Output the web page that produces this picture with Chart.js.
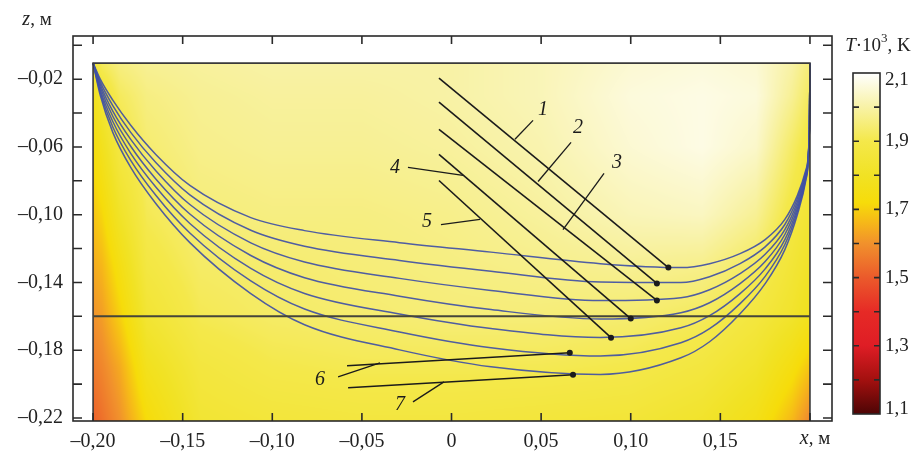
<!DOCTYPE html>
<html>
<head>
<meta charset="utf-8">
<script src="https://cdn.jsdelivr.net/npm/chart.js@4.4.0/dist/chart.umd.min.js"></script>
<style>
  html, body { margin: 0; padding: 0; background: #fff; }
  #wrap { width: 920px; height: 453px; }
</style>
</head>
<body>
<div id="wrap"><canvas id="chart" width="920" height="453"></canvas></div>
<script>
// ---- values (x, z in metres, T in 10^3 K) ----
const xs = [-0.2, -0.196, -0.189, -0.179, -0.165, -0.146, -0.112, -0.082, -0.029, 0.022,
            0.083, 0.128, 0.144, 0.161, 0.175, 0.186, 0.193, 0.1978, 0.1997, 0.2];

const front1 = [-0.0105, -0.0200, -0.0324, -0.0472, -0.0644, -0.0827, -0.1017, -0.1094, -0.1165, -0.1221,
                -0.1289, -0.1312, -0.1289, -0.1230, -0.1147, -0.1028, -0.0886, -0.0733, -0.0496, -0.0105];
const front2 = [-0.0105, -0.0216, -0.0356, -0.0514, -0.0692, -0.0883, -0.1092, -0.1186, -0.1270, -0.1334,
                -0.1398, -0.1401, -0.1366, -0.1289, -0.1190, -0.1058, -0.0905, -0.0743, -0.0496, -0.0105];
const front3 = [-0.0105, -0.0231, -0.0388, -0.0555, -0.0740, -0.0940, -0.1166, -0.1279, -0.1376, -0.1447,
                -0.1507, -0.1490, -0.1443, -0.1348, -0.1234, -0.1088, -0.0924, -0.0752, -0.0496, -0.0105];
const front4 = [-0.0105, -0.0247, -0.0419, -0.0596, -0.0789, -0.0996, -0.1241, -0.1372, -0.1481, -0.1560,
                -0.1616, -0.1579, -0.1520, -0.1407, -0.1277, -0.1117, -0.0943, -0.0762, -0.0496, -0.0105];
const front5 = [-0.0105, -0.0263, -0.0450, -0.0638, -0.0837, -0.1052, -0.1317, -0.1465, -0.1586, -0.1672,
                -0.1725, -0.1668, -0.1596, -0.1466, -0.1320, -0.1147, -0.0962, -0.0772, -0.0496, -0.0105];
const front6 = [-0.0105, -0.0279, -0.0482, -0.0679, -0.0885, -0.1108, -0.1391, -0.1557, -0.1692, -0.1785,
                -0.1834, -0.1756, -0.1673, -0.1525, -0.1364, -0.1176, -0.0980, -0.0782, -0.0496, -0.0105];
const front7 = [-0.0105, -0.0295, -0.0514, -0.0721, -0.0934, -0.1165, -0.1466, -0.1650, -0.1798, -0.1898,
                -0.1943, -0.1845, -0.1750, -0.1585, -0.1407, -0.1206, -0.0999, -0.0792, -0.0496, -0.0105];

// marked points and the pointer lines leading to them
const markerX = [0.121, 0.1146, 0.1146, 0.100, 0.089, 0.066, 0.0678];
const markerZ = [-0.1312, -0.1406, -0.1506, -0.1613, -0.1726, -0.1815, -0.1945];
const pointerX = [-0.007, -0.007, -0.007, -0.007, -0.007, -0.0583, -0.0577];
const pointerZ = [-0.0194, -0.0336, -0.0496, -0.0644, -0.0798, -0.1892, -0.2022];

// curve numbers and their short leader strokes
const labelText = ['1', '2', '3', '4', '5', '6', '7'];
const labelX = [0.051, 0.0706, 0.0923, -0.0315, -0.0137, -0.0734, -0.0287];
const labelZ = [-0.0378, -0.0484, -0.0691, -0.0721, -0.104, -0.1975, -0.2123];
const leaderX0 = [0.0455, 0.0667, 0.0851, -0.0243, -0.0059, -0.0633, -0.0215];
const leaderZ0 = [-0.0443, -0.0573, -0.0756, -0.0721, -0.1058, -0.1957, -0.2105];
const leaderX1 = [0.0354, 0.0483, 0.0622, 0.0064, 0.0159, -0.0399, -0.0042];
const leaderZ1 = [-0.0555, -0.0804, -0.1088, -0.0768, -0.1028, -0.1875, -0.1987];

// domain box and level line
const boxTop = -0.0105;
const levelZ = -0.16;

// axis ticks
const xTicks = [-0.2, -0.15, -0.1, -0.05, 0, 0.05, 0.1, 0.15, 0.2];
const zTicks = [-0.22, -0.2, -0.18, -0.16, -0.14, -0.12, -0.1, -0.08, -0.06, -0.04, -0.02, 0];
const zLabelled = [-0.22, -0.18, -0.14, -0.1, -0.06, -0.02];

// temperature field (rows = z, cols = x), 10^3 K
const fieldX = [-0.2, -0.195, -0.185, -0.17, -0.14, -0.1, -0.05, 0, 0.05, 0.1, 0.14, 0.17, 0.19, 0.2];
const fieldZ = [-0.0105, -0.03, -0.06, -0.1, -0.13, -0.16, -0.19, -0.222];
const fieldT = [
  [1.86, 1.92, 1.96, 1.98, 1.99, 2.00, 2.00, 2.00, 2.02, 2.05, 2.06, 2.05, 2.00, 1.95],
  [1.78, 1.84, 1.92, 1.96, 1.98, 1.99, 1.99, 2.00, 2.02, 2.06, 2.07, 2.06, 1.98, 1.92],
  [1.73, 1.78, 1.88, 1.94, 1.97, 1.98, 1.98, 1.99, 2.01, 2.05, 2.07, 2.04, 1.93, 1.87],
  [1.68, 1.71, 1.81, 1.91, 1.95, 1.96, 1.96, 1.97, 1.99, 2.02, 2.03, 1.98, 1.88, 1.84],
  [1.64, 1.66, 1.75, 1.88, 1.93, 1.94, 1.95, 1.96, 1.97, 1.98, 1.97, 1.92, 1.85, 1.81],
  [1.60, 1.62, 1.70, 1.84, 1.91, 1.93, 1.94, 1.95, 1.95, 1.94, 1.92, 1.87, 1.82, 1.78],
  [1.56, 1.58, 1.64, 1.78, 1.87, 1.90, 1.91, 1.91, 1.91, 1.90, 1.87, 1.82, 1.74, 1.68],
  [1.51, 1.54, 1.60, 1.72, 1.84, 1.86, 1.87, 1.87, 1.86, 1.85, 1.82, 1.76, 1.66, 1.58]
];

// colour scale
const cmapT = [1.1, 1.2, 1.3, 1.4, 1.5, 1.6, 1.66, 1.72, 1.8, 1.9, 2.0, 2.1];
const cmapColor = ['#4d0505', '#a3100f', '#df1d25', '#e62a26', '#eb5a2b', '#f1912c',
                   '#f6b719', '#f6dc0a', '#f1e224', '#f4e84a', '#f8f2a6', '#ffffff'];
const cbTicks = [1.2, 1.3, 1.4, 1.5, 1.6, 1.7, 1.8, 1.9, 2.0];
const cbLabels = [2.1, 1.9, 1.7, 1.5, 1.3, 1.1];

const SERIF = '"Liberation Serif", "DejaVu Serif", serif';
const curveColor = 'rgba(64, 80, 165, 0.92)';
const inkColor = '#1b1b1b';

function fmtComma(v, digits) {
  if (Math.abs(v) < 1e-9) return '0';
  const s = Math.abs(v).toFixed(digits).replace('.', ',');
  return v < 0 ? '\u2013' + s : s;
}

const cmapRGB = cmapColor.map(h => [parseInt(h.slice(1, 3), 16), parseInt(h.slice(3, 5), 16), parseInt(h.slice(5, 7), 16)]);
function tempColor(t) {
  if (t <= cmapT[0]) return cmapRGB[0];
  for (let i = 1; i < cmapT.length; i++) {
    if (t <= cmapT[i]) {
      const f = (t - cmapT[i - 1]) / (cmapT[i] - cmapT[i - 1]);
      const a = cmapRGB[i - 1], b = cmapRGB[i];
      return [a[0] + (b[0] - a[0]) * f, a[1] + (b[1] - a[1]) * f, a[2] + (b[2] - a[2]) * f];
    }
  }
  return cmapRGB[cmapRGB.length - 1];
}

function bracket(arr, v, descending) {
  const n = arr.length;
  for (let i = 0; i < n - 1; i++) {
    const a = arr[i], b = arr[i + 1];
    const inside = descending ? (v <= a && v >= b) : (v >= a && v <= b);
    if (inside) return [i, (v - a) / (b - a)];
  }
  if (descending ? v > arr[0] : v < arr[0]) return [0, 0];
  return [n - 2, 1];
}

// heat map under the curves
const fieldPlugin = {
  id: 'field',
  beforeDatasetsDraw(chart) {
    const { ctx, chartArea, scales: { x, y } } = chart;
    const left = Math.round(x.getPixelForValue(fieldX[0]));
    const right = Math.round(x.getPixelForValue(fieldX[fieldX.length - 1]));
    const top = Math.round(y.getPixelForValue(fieldZ[0]));
    const bottom = Math.min(Math.round(chartArea.bottom), Math.round(y.getPixelForValue(fieldZ[fieldZ.length - 1])));
    const w = right - left, h = bottom - top;
    const off = document.createElement('canvas');
    off.width = w; off.height = h;
    const octx = off.getContext('2d');
    const img = octx.createImageData(w, h);
    for (let j = 0; j < h; j++) {
      const [r, fr] = bracket(fieldZ, y.getValueForPixel(top + j + 0.5), true);
      for (let i = 0; i < w; i++) {
        const [c, fc] = bracket(fieldX, x.getValueForPixel(left + i + 0.5), false);
        const t00 = fieldT[r][c], t01 = fieldT[r][c + 1], t10 = fieldT[r + 1][c], t11 = fieldT[r + 1][c + 1];
        const t = (t00 * (1 - fc) + t01 * fc) * (1 - fr) + (t10 * (1 - fc) + t11 * fc) * fr;
        const col = tempColor(t);
        const k = (j * w + i) * 4;
        img.data[k] = col[0]; img.data[k + 1] = col[1]; img.data[k + 2] = col[2]; img.data[k + 3] = 255;
      }
    }
    octx.putImageData(img, 0, 0);
    ctx.drawImage(off, left, top);
  }
};

function drawMixed(ctx, parts, x, y, align) {
  // parts: [text, style, size, dy]
  let total = 0;
  parts.forEach(p => { ctx.font = `${p[1]} ${p[2]}px ${SERIF}`; total += ctx.measureText(p[0]).width; });
  let cx = align === 'center' ? x - total / 2 : x;
  ctx.textAlign = 'left';
  parts.forEach(p => {
    ctx.font = `${p[1]} ${p[2]}px ${SERIF}`;
    ctx.fillText(p[0], cx, y + (p[3] || 0));
    cx += ctx.measureText(p[0]).width;
  });
}

// frame, inward ticks, numbers, titles and colour bar
const overlayPlugin = {
  id: 'overlay',
  afterDraw(chart) {
    const { ctx, chartArea: a, scales: { x, y } } = chart;
    ctx.save();
    ctx.strokeStyle = '#2a2a2a';
    ctx.lineWidth = 1.6;
    ctx.strokeRect(a.left, a.top, a.right - a.left, a.bottom - a.top);

    ctx.beginPath();
    xTicks.forEach(v => {
      const px = x.getPixelForValue(v);
      ctx.moveTo(px, a.bottom); ctx.lineTo(px, a.bottom - 8);
      ctx.moveTo(px, a.top); ctx.lineTo(px, a.top + 8);
    });
    zTicks.forEach(v => {
      const py = y.getPixelForValue(v);
      ctx.moveTo(a.left, py); ctx.lineTo(a.left + 9, py);
      ctx.moveTo(a.right, py); ctx.lineTo(a.right - 9, py);
    });
    ctx.stroke();

    // curve numbers
    ctx.fillStyle = inkColor;
    ctx.textBaseline = 'middle';
    ctx.textAlign = 'center';
    ctx.font = `italic 20px ${SERIF}`;
    labelText.forEach((s, i) => {
      ctx.fillText(s, x.getPixelForValue(labelX[i]), y.getPixelForValue(labelZ[i]));
    });

    // axis titles
    ctx.fillStyle = '#222';
    drawMixed(ctx, [['z', 'italic', 20], [', м', 'normal', 19]], 37, 20, 'center');
    drawMixed(ctx, [['x', 'italic', 20], [', м', 'normal', 19]], 815, 439, 'center');

    // colour bar
    const cbL = 853, cbR = 880, cbT = 73, cbB = 414;
    const tMin = cmapT[0], tMax = cmapT[cmapT.length - 1];
    const grad = ctx.createLinearGradient(0, cbB, 0, cbT);
    cmapT.forEach((t, i) => grad.addColorStop((t - tMin) / (tMax - tMin), cmapColor[i]));
    ctx.fillStyle = grad;
    ctx.fillRect(cbL, cbT, cbR - cbL, cbB - cbT);
    ctx.strokeStyle = '#2a2a2a';
    ctx.lineWidth = 1.6;
    ctx.strokeRect(cbL, cbT, cbR - cbL, cbB - cbT);
    const tPix = t => cbB - (t - tMin) / (tMax - tMin) * (cbB - cbT);
    ctx.beginPath();
    cbTicks.forEach(t => {
      const py = tPix(t);
      ctx.moveTo(cbL, py); ctx.lineTo(cbL + 6, py);
      ctx.moveTo(cbR, py); ctx.lineTo(cbR - 6, py);
    });
    ctx.stroke();
    ctx.fillStyle = '#222';
    ctx.font = `19px ${SERIF}`;
    ctx.textAlign = 'left';
    ctx.textBaseline = 'middle';
    cbLabels.forEach(t => {
      const py = Math.min(Math.max(tPix(t), cbT + 7), cbB - 5);
      ctx.fillText(fmtComma(t, 1), cbR + 5, py);
    });
    drawMixed(ctx, [['T', 'italic', 19], ['\u00b710', 'normal', 19], ['3', 'normal', 13, -7], [', K', 'normal', 19]], 878, 46, 'center');
    ctx.restore();
  }
};

const pts = zs => xs.map((xv, i) => ({ x: xv, y: zs[i] }));
const fronts = [front1, front2, front3, front4, front5, front6, front7];
const datasets = [];

fronts.forEach(zs => datasets.push({
  data: pts(zs), showLine: true, borderColor: curveColor, borderWidth: 1.5,
  pointRadius: 0, cubicInterpolationMode: 'monotone', order: 3
}));
markerX.forEach((mx, i) => datasets.push({
  data: [{ x: pointerX[i], y: pointerZ[i] }, { x: mx, y: markerZ[i] }],
  showLine: true, borderColor: inkColor, borderWidth: 1.6,
  pointRadius: [0, 3], pointBackgroundColor: inkColor, pointBorderWidth: 0, order: 1
}));
leaderX0.forEach((lx, i) => datasets.push({
  data: [{ x: lx, y: leaderZ0[i] }, { x: leaderX1[i], y: leaderZ1[i] }],
  showLine: true, borderColor: inkColor, borderWidth: 1.3, pointRadius: 0, order: 1
}));
datasets.push({
  data: [{ x: fieldX[0], y: levelZ }, { x: fieldX[fieldX.length - 1], y: levelZ }],
  showLine: true, borderColor: '#45453a', borderWidth: 2, pointRadius: 0, order: 2
});
datasets.push({
  data: [{ x: fieldX[0], y: -0.23 }, { x: fieldX[0], y: boxTop },
         { x: fieldX[fieldX.length - 1], y: boxTop }, { x: fieldX[fieldX.length - 1], y: -0.23 }],
  showLine: true, borderColor: '#3a3a3a', borderWidth: 1.6, pointRadius: 0, order: 2
});

new Chart(document.getElementById('chart'), {
  type: 'scatter',
  data: { datasets },
  options: {
    responsive: false,
    animation: false,
    events: [],
    layout: { padding: { left: 0, top: 36, right: 88, bottom: 0 } },
    plugins: { legend: { display: false }, tooltip: { enabled: false } },
    scales: {
      x: {
        type: 'linear', min: -0.2112, max: 0.2123,
        afterBuildTicks: s => { s.ticks = xTicks.map(v => ({ value: v })); },
        afterFit: s => { s.height = 32; },
        grid: { display: false, drawTicks: false },
        border: { display: false },
        ticks: {
          autoSkip: false, maxRotation: 0, padding: 9, color: '#222',
          font: { family: SERIF, size: 20 },
          callback: v => (Math.abs(v - 0.2) < 1e-9 ? '' : fmtComma(v, 2))
        }
      },
      y: {
        type: 'linear', min: -0.2218, max: 0.0055,
        afterBuildTicks: s => { s.ticks = zTicks.map(v => ({ value: v })); },
        afterFit: s => { s.width = 73; },
        grid: { display: false, drawTicks: false },
        border: { display: false },
        ticks: {
          autoSkip: false, padding: 10, color: '#222',
          font: { family: SERIF, size: 20 },
          callback: v => (zLabelled.some(t => Math.abs(t - v) < 1e-9) ? fmtComma(v, 2) : '')
        }
      }
    }
  },
  plugins: [fieldPlugin, overlayPlugin]
});
</script>
</body>
</html>
